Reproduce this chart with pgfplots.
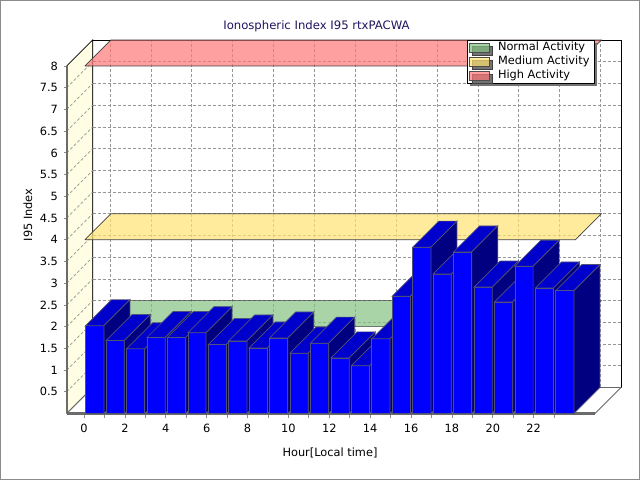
\documentclass[border=0pt]{standalone}
\usepackage{pgfplots}
\pgfplotsset{compat=1.18}
\usepackage{pgfplotstable}
\usepackage{fontspec}
\setmainfont{DejaVu Sans}
\usetikzlibrary{shadows}
\definecolor{barfront}{RGB}{0,0,255}
\definecolor{bartop}{RGB}{0,0,205}
\definecolor{barside}{RGB}{0,0,128}
\definecolor{baredge}{RGB}{80,80,120}
\definecolor{bandgreen}{RGB}{131,194,131}
\definecolor{bandyellow}{RGB}{255,227,113}
\definecolor{bandred}{RGB}{255,119,119}
\definecolor{wallyellow}{RGB}{255,253,228}
\definecolor{titleblue}{RGB}{30,20,95}
\definecolor{gridgray}{RGB}{150,150,150}
\pgfdeclareplotmark{nothing}{}
\pgfplotstableread{
h v
0 2.02
1 1.68
2 1.49
3 1.75
4 1.75
5 1.86
6 1.59
7 1.67
8 1.51
9 1.74
10 1.39
11 1.62
12 1.28
13 1.10
14 1.72
15 2.70
16 3.83
17 3.21
18 3.72
19 2.91
20 2.57
21 3.39
22 2.89
23 2.83
}\datatable
\newcommand{\fs}{\fontsize{11.4}{13}\selectfont}
\begin{document}
\begin{tikzpicture}[x=1bp,y=1bp]
\path[use as bounding box] (0,0) rectangle (640,480);
\draw[black!45, line width=1bp] (0.5,0.5) rectangle (639.5,479.5);
% back wall
\begin{axis}[
  at={(92.7bp,92.5bp)}, anchor=south west,
  scale only axis, width=528.3bp, height=347.5bp,
  xmin=-0.85, xmax=25, ymin=0, ymax=8,
  xtick={0,2,...,24}, ytick={0.5,1,...,7.5},
  xticklabels={}, yticklabels={},
  major tick length=0pt,
  grid=major,
  major grid style={draw=gridgray, line width=0.7bp, dash pattern=on 3bp off 2bp},
  axis line style={draw=black, line width=0.8bp},
]
\end{axis}
% front
\begin{axis}[
  at={(66.7bp,66.5bp)}, anchor=south west,
  scale only axis, width=528.3bp, height=347.5bp,
  xmin=-0.85, xmax=25, ymin=0, ymax=8,
  clip=false,
  axis on top,
  axis x line*=bottom, axis y line*=left,
  axis line style={-, draw=black!58, line width=2.2bp},
  xtick={0,...,23},
  xticklabels={0,,2,,4,,6,,8,,10,,12,,14,,16,,18,,20,,22,},
  ytick={0.5,1,...,8},
  tick align=outside,
  xtick style={draw=black!45, line width=0.8bp, /pgfplots/major tick length=5bp},
  ytick style={draw=black!45, line width=0.8bp, /pgfplots/major tick length=2.5bp},
  /pgf/number format/assume math mode=true,
  ticklabel style={font=\fs},
  xticklabel style={yshift=-3bp},
  yticklabel style={xshift=-1bp},
  legend style={at={(0.7577,1.0748)}, anchor=north west, draw=black, line width=0.8bp,
    fill=white, font=\fs, inner xsep=2bp, inner ysep=1bp, row sep=1bp,
    nodes={inner xsep=3bp, inner ysep=1bp, text height=8.5bp, text depth=2.5bp},
    /tikz/every odd column/.append style={column sep=5bp},
    drop shadow={shadow xshift=2.5bp, shadow yshift=-2.5bp, fill=black!55, opacity=1}},
  legend cell align=left,
  legend image code/.code={\draw[#1, draw=black!70, line width=0.6bp] (0bp,-4.5bp) rectangle (20bp,4.5bp);},
]
% left wall
\addplot[fill=wallyellow, draw=black, line width=0.7bp, forget plot]
  coordinates {(-0.85,0) (-0.85,8) (0.4222,8.5986) (0.4222,0.5986) (-0.85,0)};
\addplot[draw=gridgray, line width=0.7bp, dash pattern=on 3bp off 2bp, unbounded coords=jump, forget plot]
  coordinates {(-0.85,0.5) (0.4222,1.0986) (0,nan)
               (-0.85,1.0) (0.4222,1.5986) (0,nan)
               (-0.85,1.5) (0.4222,2.0986) (0,nan)
               (-0.85,2.0) (0.4222,2.5986) (0,nan)
               (-0.85,2.5) (0.4222,3.0986) (0,nan)
               (-0.85,3.0) (0.4222,3.5986) (0,nan)
               (-0.85,3.5) (0.4222,4.0986) (0,nan)
               (-0.85,4.0) (0.4222,4.5986) (0,nan)
               (-0.85,4.5) (0.4222,5.0986) (0,nan)
               (-0.85,5.0) (0.4222,5.5986) (0,nan)
               (-0.85,5.5) (0.4222,6.0986) (0,nan)
               (-0.85,6.0) (0.4222,6.5986) (0,nan)
               (-0.85,6.5) (0.4222,7.0986) (0,nan)
               (-0.85,7.0) (0.4222,7.5986) (0,nan)
               (-0.85,7.5) (0.4222,8.0986)};
% floor
\addplot[fill=white, draw=black!60, line width=0.8bp, forget plot]
  coordinates {(-0.85,0) (25,0) (26.2722,0.5986) (0.4222,0.5986) (-0.85,0)};
% threshold planes
\addplot[fill=bandgreen, fill opacity=0.7, draw=black!75, line width=0.7bp]
  coordinates {(0.04,2) (24.04,2) (25.3122,2.5986) (1.3122,2.5986) (0.04,2)};
\addlegendentry{Normal Activity}
\addplot[fill=bandyellow, fill opacity=0.7, draw=black!75, line width=0.7bp]
  coordinates {(0.04,4) (24.04,4) (25.3122,4.5986) (1.3122,4.5986) (0.04,4)};
\addlegendentry{Medium Activity}
\addplot[fill=bandred, fill opacity=0.7, draw=black!75, line width=0.7bp]
  coordinates {(0.04,8) (24.04,8) (25.3122,8.5986) (1.3122,8.5986) (0.04,8)};
\addlegendentry{High Activity}
% bars
\addplot[scatter, only marks, mark=nothing, forget plot,
  visualization depends on={\thisrow{v} \as \val},
  scatter/@pre marker code/.code={%
    \pgfmathsetmacro\H{\val*43.4375}%
    \pgfmathsetmacro\B{26-\H}%
    \filldraw[fill=barfront, draw=baredge, line width=0.7bp] (0bp,0bp) rectangle (18.2bp,-\H bp);
    \filldraw[fill=bartop, draw=baredge, line width=0.7bp] (0bp,0bp) -- (18.2bp,0bp) -- (44.2bp,26bp) -- (26bp,26bp) -- cycle;
    \filldraw[fill=barside, draw=baredge, line width=0.7bp] (18.2bp,0bp) -- (44.2bp,26bp) -- (44.2bp,\B bp) -- (18.2bp,-\H bp) -- cycle;
  },
  scatter/@post marker code/.code={},
] table[x expr=\thisrow{h}+0.08, y=v] {\datatable};
\end{axis}
\node[text=titleblue, font=\fontsize{11.7}{13}\selectfont] at (316.5,454) {Ionospheric Index I95 rtxPACWA};
\node[font=\fs, rotate=90] at (28,265) {I95 Index};
\node[font=\fs] at (330,27) {Hour[Local time]};
\end{tikzpicture}
\end{document}
